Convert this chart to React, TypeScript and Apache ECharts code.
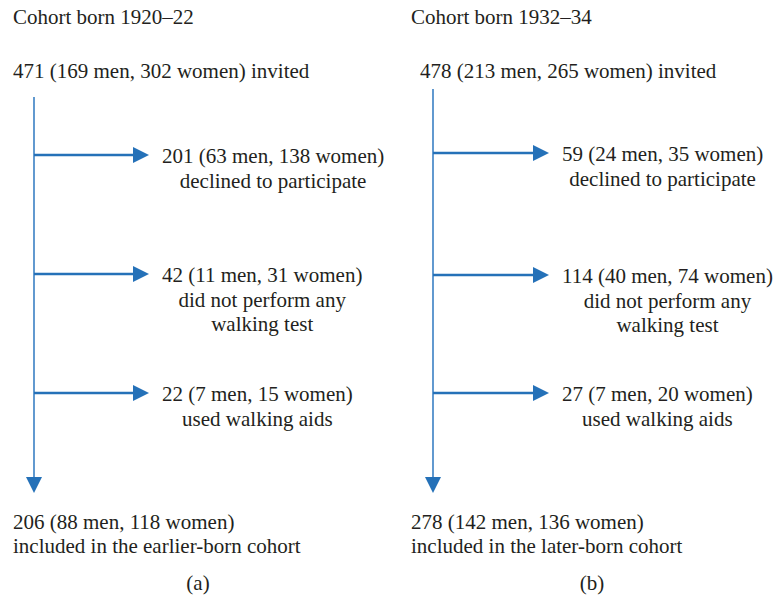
import React, { useEffect, useRef } from "react";
import * as echarts from "echarts";

// ---- Data ----
const PANEL_LABELS = ["(a)", "(b)"];
const COHORT_YEARS = ["1920–22", "1932–34"];
const COHORT_NAMES = ["earlier-born", "later-born"];
// [total, men, women]
const INVITED = [
  [471, 169, 302],
  [478, 213, 265],
];
const DECLINED = [
  [201, 63, 138],
  [59, 24, 35],
];
const NO_WALKING_TEST = [
  [42, 11, 31],
  [114, 40, 74],
];
const WALKING_AIDS = [
  [22, 7, 15],
  [27, 7, 20],
];
const INCLUDED = [
  [206, 88, 118],
  [278, 142, 136],
];
const EXCLUSION_REASONS = [
  ["declined to participate"],
  ["did not perform any", "walking test"],
  ["used walking aids"],
];

// ---- Layout (styles/positions) ----
const FONT_SIZE = 21;
const FONT_FAMILY = "'Liberation Serif', 'DejaVu Serif', serif";
const TEXT_COLOR = "#231f20";
const ARROW_COLOR = "#2571b8";
const TRUNK_COLOR = "#3a80c4";
const LINE_H = 24.5;

const PANELS = [
  {
    titleX: 13,
    invitedX: 13,
    trunkX: 34,
    trunkTop: 97,
    trunkTip: 493,
    branchY: [155, 274, 393],
    branchTip: 149,
    textLeft: 162,
    bottomX: 13,
    labelX: 198,
  },
  {
    titleX: 411,
    invitedX: 420,
    trunkX: 433,
    trunkTop: 89,
    trunkTip: 493,
    branchY: [153, 275, 393],
    branchTip: 549,
    textLeft: 562,
    bottomX: 411,
    labelX: 592,
  },
];

const fmt = (v: number[]) => `${v[0]} (${v[1]} men, ${v[2]} women)`;

function measure(text: string): number {
  const c = document.createElement("canvas");
  const ctx = c.getContext("2d")!;
  ctx.font = `${FONT_SIZE}px ${FONT_FAMILY}`;
  return ctx.measureText(text).width;
}

function textEl(text: string, x: number, y: number, align: string = "left") {
  return {
    type: "text",
    silent: true,
    style: {
      text,
      x,
      y,
      fill: TEXT_COLOR,
      fontSize: FONT_SIZE,
      fontFamily: FONT_FAMILY,
      align,
      verticalAlign: "middle",
      textAlign: align,
      textVerticalAlign: "middle",
    },
  };
}

function buildElements() {
  const els: any[] = [];
  const branches = [DECLINED, NO_WALKING_TEST, WALKING_AIDS];
  PANELS.forEach((p, i) => {
    els.push(textEl(`Cohort born ${COHORT_YEARS[i]}`, p.titleX, 17));
    els.push(textEl(`${fmt(INVITED[i])} invited`, p.invitedX, 71));

    // trunk
    const ah = 16;
    els.push({
      type: "line",
      silent: true,
      shape: { x1: p.trunkX, y1: p.trunkTop, x2: p.trunkX, y2: p.trunkTip - ah + 1 },
      style: { stroke: TRUNK_COLOR, lineWidth: 1.6 },
    });
    els.push({
      type: "polygon",
      silent: true,
      shape: {
        points: [
          [p.trunkX - 8, p.trunkTip - ah],
          [p.trunkX + 8, p.trunkTip - ah],
          [p.trunkX, p.trunkTip],
        ],
      },
      style: { fill: ARROW_COLOR },
    });

    branches.forEach((b, k) => {
      const y = p.branchY[k];
      els.push({
        type: "line",
        silent: true,
        shape: { x1: p.trunkX, y1: y, x2: p.branchTip - ah + 1, y2: y },
        style: { stroke: ARROW_COLOR, lineWidth: 2.4 },
      });
      els.push({
        type: "polygon",
        silent: true,
        shape: {
          points: [
            [p.branchTip - ah, y - 8],
            [p.branchTip - ah, y + 8],
            [p.branchTip, y],
          ],
        },
        style: { fill: ARROW_COLOR },
      });
      const lines = [fmt(b[i]), ...EXCLUSION_REASONS[k]];
      const w = Math.max(...lines.map(measure));
      const cx = p.textLeft + w / 2;
      lines.forEach((ln, j) => {
        els.push(textEl(ln, cx, y + 1 + j * LINE_H, "center"));
      });
    });

    els.push(textEl(fmt(INCLUDED[i]), p.bottomX, 522));
    els.push(textEl(`included in the ${COHORT_NAMES[i]} cohort`, p.bottomX, 546));
    els.push(textEl(PANEL_LABELS[i], p.labelX, 583, "center"));
  });
  return els;
}

export default function App() {
  const ref = useRef<HTMLDivElement>(null);
  useEffect(() => {
    if (!ref.current) return;
    const chart = echarts.init(ref.current, null, { renderer: "svg" });
    chart.setOption({
      animation: false,
      backgroundColor: "#ffffff",
      graphic: { elements: buildElements() },
    });
    return () => chart.dispose();
  }, []);
  return (
    <div
      ref={ref}
      style={{ position: "fixed", left: 0, top: 0, width: 774, height: 597, background: "#fff" }}
    />
  );
}
